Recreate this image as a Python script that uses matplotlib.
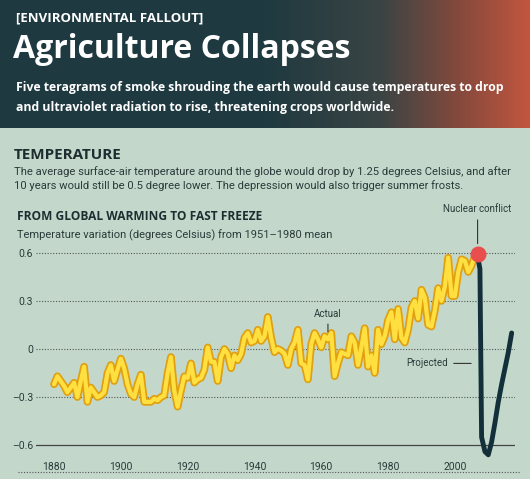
import matplotlib
matplotlib.use("Agg")
import matplotlib.pyplot as plt
import numpy as np
from matplotlib.colors import LinearSegmentedColormap

years = list(range(1880, 2007))
actual = [-0.22,-0.17,-0.20,-0.23,-0.27,-0.24,-0.21,-0.30,-0.20,-0.11,
          -0.33,-0.24,-0.27,-0.30,-0.29,-0.27,-0.15,-0.10,-0.20,-0.13,
          -0.06,-0.12,-0.22,-0.28,-0.30,-0.22,-0.16,-0.33,-0.33,-0.33,
          -0.31,-0.32,-0.30,-0.29,-0.15,-0.05,-0.26,-0.36,-0.26,-0.17,
          -0.18,-0.09,-0.21,-0.19,-0.18,-0.13,0.01,-0.08,-0.08,-0.20,
          -0.05,0.00,-0.03,-0.12,-0.04,-0.07,-0.03,0.07,0.10,0.04,
          0.05,0.12,0.05,0.08,0.20,0.07,-0.02,0.00,-0.01,-0.03,
          -0.10,0.00,0.04,0.12,-0.09,-0.10,-0.19,0.03,0.10,0.06,
          0.01,0.08,0.06,0.10,-0.17,-0.09,-0.02,-0.03,-0.04,0.08,
          0.04,-0.10,0.01,0.13,-0.11,-0.04,-0.15,0.12,0.03,0.08,
          0.18,0.23,0.06,0.25,0.07,0.04,0.12,0.26,0.30,0.19,
          0.37,0.32,0.15,0.14,0.24,0.38,0.30,0.39,0.57,0.33,
          0.33,0.48,0.56,0.55,0.48,0.52,0.58]
proj_years = [2006.8,2007.5,2008,2009,2010,2011,2012,2013,2014,2015,2016,2017]
projected = [0.58,0.50,-0.55,-0.64,-0.66,-0.58,-0.46,-0.33,-0.22,-0.12,-0.02,0.10]
conflict = (2006.8, 0.59)
yticks = [0.6, 0.3, 0, -0.3, -0.6]
ytick_labels = ["0.6", "0.3", "0", "\u20130.3", "\u20130.6"]
xticks = [1880, 1900, 1920, 1940, 1960, 1980, 2000]

W, H = 530, 479
fig = plt.figure(figsize=(W/100, H/100), dpi=100)
bg = fig.add_axes([0, 0, 1, 1]); bg.set_axis_off()
bg.add_patch(plt.Rectangle((0, 128), W, H-128, color="#c3d8cb", zorder=0))
cmap = LinearSegmentedColormap.from_list("h", [(0, "#1e3a40"), (0.5, "#1f3a40"), (0.72, "#3a4444"), (0.88, "#8a4a3c"), (1, "#c0563f")])
grad = np.linspace(0, 1, 300)[None, :]
bg.imshow(grad, extent=[0, W, 128, 0], cmap=cmap, aspect="auto", zorder=1)
bg.set_xlim(0, W); bg.set_ylim(H, 0)
bg.plot([18, 520], [472, 472], ls=(0, (1, 1.5)), color="#555", lw=0.8)

fs = "Open Sans"
fig.text(16/W, 1-18/H, "[ENVIRONMENTAL FALLOUT]", color="white", fontsize=9.5, family=fs, weight="bold", va="center")
fig.text(13/W, 1-50/H, "Agriculture Collapses", color="white", fontsize=23, family=fs, weight="bold", va="center")
fig.text(16/W, 1-87/H, "Five teragrams of smoke shrouding the earth would cause temperatures to drop",
         color="white", fontsize=8.8, family=fs, weight="bold", va="center")
fig.text(16/W, 1-107/H, "and ultraviolet radiation to rise, threatening crops worldwide.",
         color="white", fontsize=8.8, family=fs, weight="bold", va="center")
fig.text(14/W, 1-155/H, "TEMPERATURE", color="#1e2e30", fontsize=11, family=fs, weight="bold", va="center")
fig.text(14/W, 1-172/H, "The average surface-air temperature around the globe would drop by 1.25 degrees Celsius, and after",
         color="#2b3a3a", fontsize=8.1, family="Roboto", va="center")
fig.text(14/W, 1-186/H, "10 years would still be 0.5 degree lower. The depression would also trigger summer frosts.",
         color="#2b3a3a", fontsize=8.1, family="Roboto", va="center")
fig.text(17/W, 1-217/H, "FROM GLOBAL WARMING TO FAST FREEZE", color="#1e2e30", fontsize=8.6, family=fs, weight="bold", va="center")
fig.text(17/W, 1-235/H, "Temperature variation (degrees Celsius) from 1951\u20131980 mean",
         color="#2b3a3a", fontsize=8.0, family="Roboto", va="center")

ax = fig.add_axes([36/W, 1-458/H, (515-36)/W, (458-240)/H])
ax.patch.set_alpha(0)
ax.set_xlim(1874.6, 2018)
ax.set_ylim(-0.68, 0.68)
for s in ax.spines.values():
    s.set_visible(False)
for y in yticks[:-1]:
    ax.axhline(y, color="#555", ls=(0, (1, 1.5)), lw=0.8, zorder=1)
ax.axhline(-0.6, color="#444", lw=0.9, zorder=1)
ax.set_yticks(yticks, ytick_labels)
ax.set_xticks(xticks)
ax.tick_params(length=0, labelsize=7.5, colors="#2b3a3a", pad=3)
ax.tick_params(axis="y", pad=2)
for t in ax.get_xticklabels() + ax.get_yticklabels():
    t.set_family("Roboto")
ax.plot(years, actual, color="#e0a010", lw=5.5, solid_joinstyle="round", solid_capstyle="round", zorder=3)
ax.plot(years, actual, color="#ffe040", lw=3, solid_joinstyle="round", solid_capstyle="round", zorder=4)
ax.plot(proj_years, projected, color="#13303a", lw=3.5, solid_capstyle="round", zorder=5)
ax.scatter([conflict[0]], [conflict[1]], s=110, color="#e84e4e", zorder=6)
ax.annotate("Actual", xy=(1962, 0.09), xytext=(1962, 0.19), ha="center", va="bottom",
            fontsize=7, family="Roboto", color="#2b3a3a",
            arrowprops=dict(arrowstyle="-", color="#333", lw=0.8))
ax.annotate("Projected", xy=(2005.7, -0.09), xytext=(1998, -0.09), ha="right", va="center",
            fontsize=7, family="Roboto", color="#2b3a3a",
            arrowprops=dict(arrowstyle="-", color="#333", lw=0.8))
ax.annotate("Nuclear conflict", xy=(conflict[0], 0.64), xytext=(conflict[0], 0.84), ha="center", va="bottom",
            fontsize=7, family="Roboto", color="#2b3a3a", annotation_clip=False,
            arrowprops=dict(arrowstyle="-", color="#333", lw=0.8))
fig.savefig("out.png", dpi=100)
